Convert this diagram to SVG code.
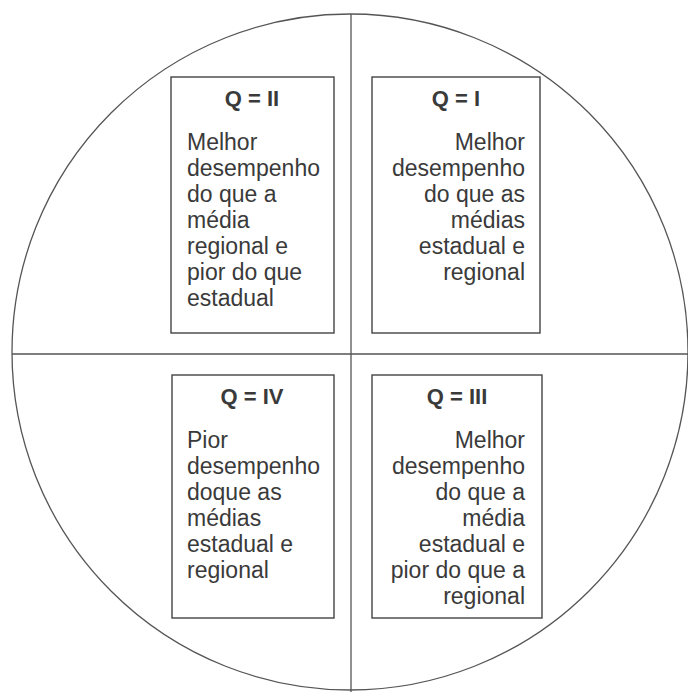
<svg xmlns="http://www.w3.org/2000/svg" width="688" height="692" viewBox="0 0 688 692">
<style>
.ln{fill:none;stroke:#555;stroke-width:1.3}
.box{fill:#fff;stroke:#444;stroke-width:1.4}
.t{font-family:"Liberation Sans",Arial,sans-serif;font-size:22px;font-weight:bold;fill:#3a3a3a;text-anchor:middle}
.b{font-family:"Liberation Sans",Arial,sans-serif;font-size:23px;fill:#3a3a3a}
.r{text-anchor:end}
</style>
<rect width="688" height="692" fill="#fff"/>
<g id="frame">
<circle class="ln" cx="350" cy="352" r="338"/>
<line class="ln" x1="351" y1="14" x2="351" y2="692"/>
<line class="ln" x1="12" y1="354" x2="688" y2="354"/>
</g>
<g id="q2">
<rect class="box" x="171" y="77" width="163" height="256"/>
<text class="t" x="252" y="106">Q = II</text>
<text class="b"><tspan x="187" y="150">Melhor</tspan><tspan x="187" y="176">desempenho</tspan><tspan x="187" y="202">do que a</tspan><tspan x="187" y="228">média</tspan><tspan x="187" y="254">regional e</tspan><tspan x="187" y="280">pior do que</tspan><tspan x="187" y="306">estadual</tspan></text>
</g>
<g id="q1">
<rect class="box" x="372" y="77" width="168" height="256"/>
<text class="t" x="456" y="106">Q = I</text>
<text class="b r"><tspan x="525" y="150">Melhor</tspan><tspan x="525" y="176">desempenho</tspan><tspan x="525" y="202">do que as</tspan><tspan x="525" y="228">médias</tspan><tspan x="525" y="254">estadual e</tspan><tspan x="525" y="280">regional</tspan></text>
</g>
<g id="q4">
<rect class="box" x="172" y="375" width="162" height="243"/>
<text class="t" x="252" y="404">Q = IV</text>
<text class="b"><tspan x="187" y="448">Pior</tspan><tspan x="187" y="474">desempenho</tspan><tspan x="187" y="500">doque as</tspan><tspan x="187" y="526">médias</tspan><tspan x="187" y="552">estadual e</tspan><tspan x="187" y="578">regional</tspan></text>
</g>
<g id="q3">
<rect class="box" x="372" y="375" width="170" height="243"/>
<text class="t" x="457" y="404">Q = III</text>
<text class="b r"><tspan x="525" y="448">Melhor</tspan><tspan x="525" y="474">desempenho</tspan><tspan x="525" y="500">do que a</tspan><tspan x="525" y="526">média</tspan><tspan x="525" y="552">estadual e</tspan><tspan x="525" y="578">pior do que a</tspan><tspan x="525" y="604">regional</tspan></text>
</g>
<g id="connectors"></g>
</svg>
